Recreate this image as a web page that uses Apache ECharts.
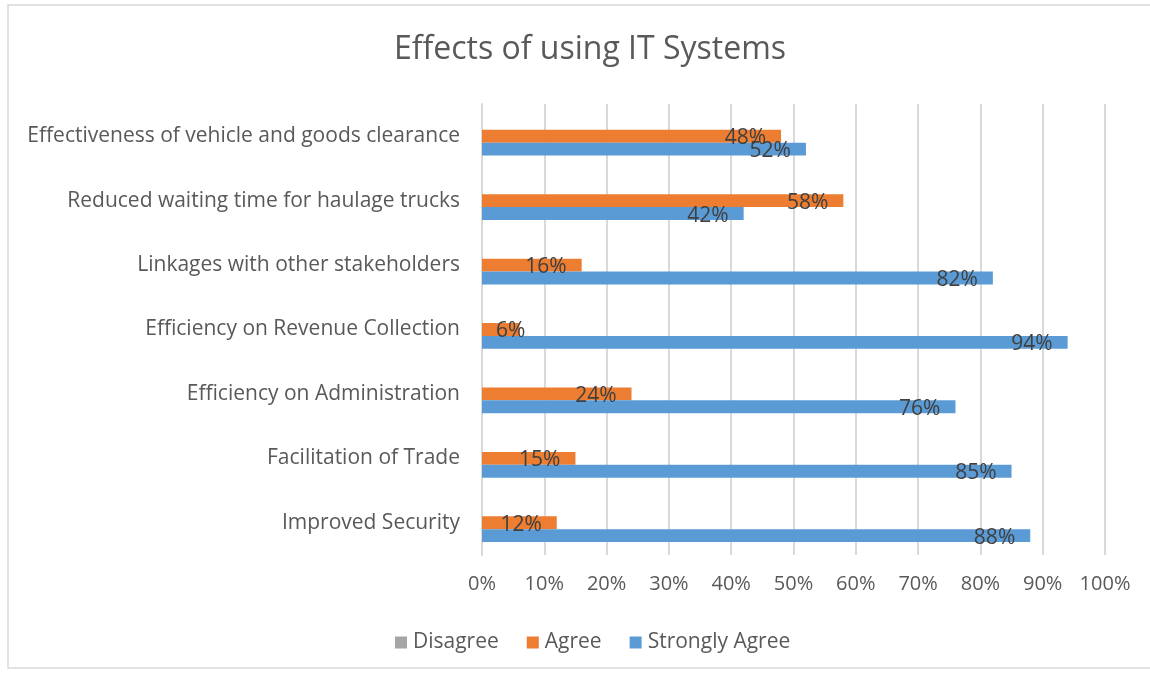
<!DOCTYPE html>
<html>
<head>
<meta charset="utf-8">
<script src="https://cdn.jsdelivr.net/npm/echarts@6/dist/echarts.min.js"></script>
<style>
  html, body { margin: 0; padding: 0; background: #ffffff; }
  #chart { width: 1150px; height: 675px; }
</style>
</head>
<body>
<div id="chart"></div>
<script>
// Survey categories, listed bottom to top along the vertical axis
const categories = [
  'Improved Security',
  'Facilitation of Trade',
  'Efficiency on Administration',
  'Efficiency on Revenue Collection',
  'Linkages with other stakeholders',
  'Reduced waiting time for haulage trucks',
  'Effectiveness of vehicle and goods clearance'
];

// Share of respondents (percent) per category
const disagree = [0, 0, 0, 0, 0, 0, 0];
const agree = [12, 15, 24, 6, 16, 58, 48];
const stronglyAgree = [88, 85, 76, 94, 82, 42, 52];

const xTicks = [0, 10, 20, 30, 40, 50, 60, 70, 80, 90, 100];

const FONT = '"Open Sans", Lato, sans-serif';
const TEXT = '#595959';

// Short bars get their label pushed just past the axis instead of inside the end
function labelled(values) {
  return values.map(function (v) {
    if (v < 10) {
      return { value: v, label: { position: 'insideLeft', distance: 14 } };
    }
    return v;
  });
}

const labelStyle = {
  show: true,
  position: 'insideRight',
  distance: 15,
  offset: [0, 2],
  color: '#404040',
  fontFamily: FONT,
  fontSize: 21,
  formatter: function (p) { return p.value + '%'; }
};

const chart = echarts.init(document.getElementById('chart'), null, { renderer: 'canvas' });

chart.setOption({
  backgroundColor: '#ffffff',
  animation: false,
  graphic: [{
    type: 'rect',
    shape: { x: 8, y: 5, width: 1160, height: 663 },
    style: { fill: 'none', stroke: '#d9d9d9', lineWidth: 1.5 },
    silent: true,
    z: -1
  }],
  title: {
    text: 'Effects of using IT Systems',
    left: 585,
    textAlign: 'center',
    top: 29,
    textStyle: { color: TEXT, fontFamily: FONT, fontSize: 32, fontWeight: 'normal' }
  },
  legend: {
    data: ['Disagree', 'Agree', 'Strongly Agree'],
    top: 627,
    left: 390,
    icon: 'rect',
    itemWidth: 12,
    itemHeight: 12,
    itemGap: 28,
    textStyle: { color: TEXT, fontFamily: FONT, fontSize: 21, padding: [0, 0, 0, 1] }
  },
  grid: { left: 482, right: 45, top: 104, bottom: 120, containLabel: false },
  xAxis: {
    type: 'value',
    min: 0,
    max: 100,
    interval: 10,
    axisLine: { show: false },
    axisTick: { show: false },
    axisLabel: {
      color: TEXT, fontFamily: FONT, fontSize: 20, margin: 19,
      formatter: function (v) { return xTicks.indexOf(v) >= 0 ? v + '%' : ''; }
    },
    splitLine: { show: true, lineStyle: { color: '#d9d9d9', width: 2 } }
  },
  yAxis: {
    type: 'category',
    data: categories,
    axisLine: { show: true, lineStyle: { color: '#d9d9d9', width: 2 } },
    axisTick: { show: false },
    axisLabel: { color: TEXT, fontFamily: FONT, fontSize: 21, margin: 22 }
  },
  series: [
    {
      name: 'Disagree',
      type: 'bar',
      data: disagree,
      itemStyle: { color: '#a5a5a5' },
      barGap: '0%',
      barCategoryGap: '40%',
      label: { show: false }
    },
    {
      name: 'Agree',
      type: 'bar',
      data: labelled(agree),
      itemStyle: { color: '#ed7d31' },
      barGap: '0%',
      barCategoryGap: '40%',
      label: labelStyle
    },
    {
      name: 'Strongly Agree',
      type: 'bar',
      data: labelled(stronglyAgree),
      itemStyle: { color: '#5b9bd5' },
      barGap: '0%',
      barCategoryGap: '40%',
      label: labelStyle
    }
  ]
});
</script>
</body>
</html>
